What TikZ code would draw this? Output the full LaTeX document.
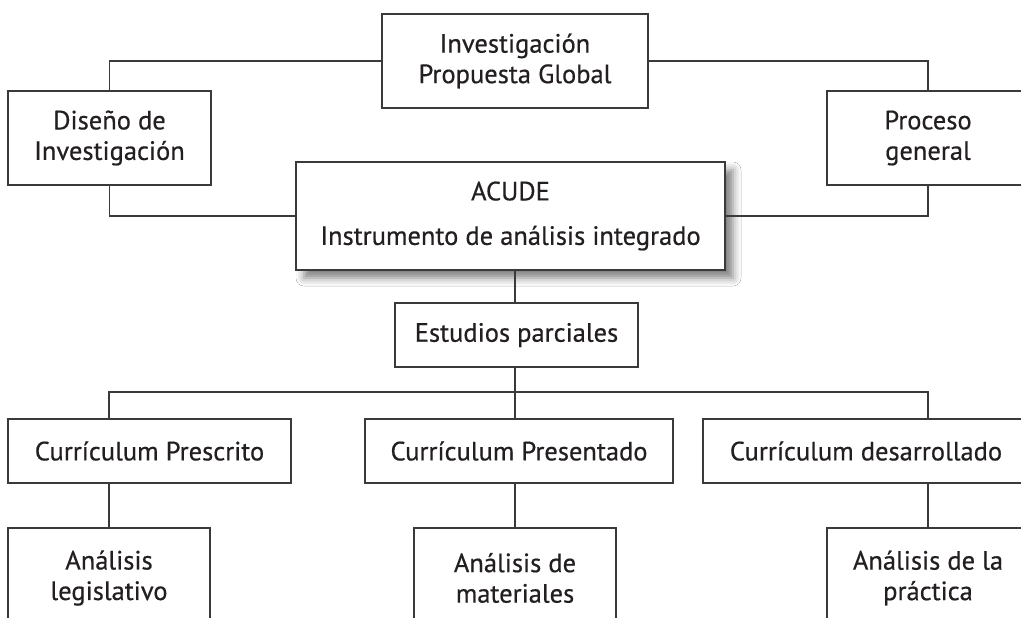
\documentclass[tikz,border=0pt]{standalone}
\usepackage{fontspec}
\setmainfont{PT Sans}[FakeBold=0.5]
\usetikzlibrary{shadows.blur}
\definecolor{ink}{HTML}{231F20}
\definecolor{rule}{HTML}{3A3A3A}
\tikzset{
  box/.style={draw=rule, line width=1.1pt, fill=white, inner sep=0pt, align=center,
    text=ink, font=\fontsize{26.5}{30.5}\selectfont},
  conn/.style={draw=rule, line width=1.1pt},
}
\begin{document}
\begin{tikzpicture}[x=1pt,y=-1pt]
\useasboundingbox (0,0) rectangle (1021,618);
\clip (0,0) rectangle (1021,618);
\fill[white] (0,0) rectangle (1021,618);
% top row
\node[box, minimum width=266pt, minimum height=94pt] (top) at (515,61) {Investigación\\Propuesta Global};
\node[box, minimum width=203pt, minimum height=94pt] (dis) at (109.5,138) {Diseño de\\Investigación};
\node[box, minimum width=202pt, minimum height=94pt] (pro) at (928,138) {Proceso\\general};
\node[box, minimum width=429pt, minimum height=108pt,
  blur shadow={shadow xshift=8pt, shadow yshift=-8pt, shadow blur radius=8pt, shadow opacity=50}]
  (acude) at (510.5,216) {ACUDE\\[14pt]Instrumento de análisis integrado};
\node[box, minimum width=243pt, minimum height=64pt] (est) at (516.5,335) {Estudios parciales};
% curriculum row
\node[box, minimum width=283pt, minimum height=64pt] (cpre) at (149.5,451) {Currículum Prescrito};
\node[box, minimum width=308pt, minimum height=64pt] (cpres) at (519,451) {Currículum Presentado};
\node[box, minimum width=326pt, minimum height=64pt] (cdes) at (866,451) {Currículum desarrollado};
% analysis row
\node[box, minimum width=202pt, minimum height=100pt] (al) at (109,578) {Análisis\\legislativo};
\node[box, minimum width=202pt, minimum height=100pt] (am) at (515,578) {Análisis de\\materiales};
\node[box, minimum width=202pt, minimum height=100pt] (ap) at (928,578) {Análisis de la\\práctica};
% connectors
\draw[conn] (dis.north) |- (top.west);
\draw[conn] (pro.north) |- (top.east);
\draw[conn] (dis.south) |- (acude.west);
\draw[conn] (pro.south) |- (acude.east);
\draw[conn] (acude.south -| am.north) -- (est.north -| am.north);
\coordinate (bus) at (515,392);
\draw[conn] (est.south -| am.north) -- (cpres.north -| am.north);
\draw[conn] (cpre.north -| al.north) |- (bus) -| (cdes.north -| ap.north);
\draw[conn] (cpre.south -| al.north) -- (al.north);
\draw[conn] (cpres.south -| am.north) -- (am.north);
\draw[conn] (cdes.south -| ap.north) -- (ap.north);
\end{tikzpicture}
\end{document}
